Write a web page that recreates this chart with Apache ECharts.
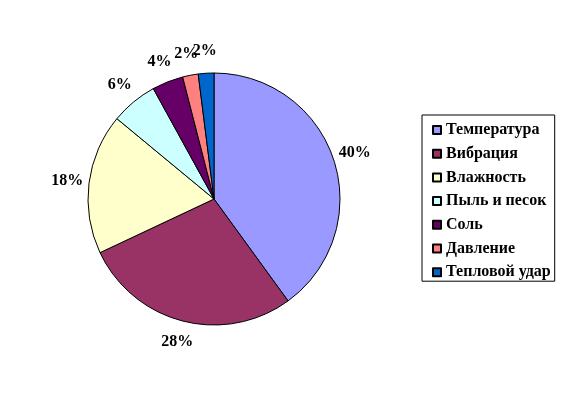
<!DOCTYPE html>
<html><head><meta charset="utf-8">
<script src="https://cdn.jsdelivr.net/npm/echarts@6/dist/echarts.min.js"></script>
<style>html,body{margin:0;padding:0;background:#fff}#c{width:566px;height:399px}</style>
</head><body><div id="c"></div>
<script>
var categories = ['Температура','Вибрация','Влажность','Пыль и песок','Соль','Давление','Тепловой удар'];
var values = [40, 28, 18, 6, 4, 2, 2];
var colors = ['#9999FF','#993366','#FFFFCC','#CCFFFF','#660066','#FF8080','#0066CC'];

var chart = echarts.init(document.getElementById('c'), null, {renderer:'canvas'});
var data = categories.map(function(n,i){return {name:n, value:values[i], itemStyle:{color:colors[i]}};});
chart.setOption({
  animation:false,
  backgroundColor:'#ffffff',
  legend:{
    orient:'vertical', left:422, top:115,
    padding:[7,4,1,10],
    borderColor:'#000', borderWidth:1,
    itemWidth:8, itemHeight:8, itemGap:7.7,
    icon:'rect',
    textStyle:{fontFamily:'Liberation Serif', fontWeight:'bold', fontSize:16, lineHeight:16, color:'#000'},
    data:categories
  },
  series:[{
    type:'pie', center:[214,199], radius:126, startAngle:90, clockwise:true,
    avoidLabelOverlap:false,
    data:data,
    itemStyle:{borderColor:'#000', borderWidth:1},
    label:{show:true, position:'outside', distanceToLabelLine:0, formatter:'{d}%', fontFamily:'Liberation Serif', fontWeight:'bold', fontSize:16, color:'#000'},
    labelLine:{show:false, length:22, length2:0},
    labelLayout:{align:'center', verticalAlign:'middle', hideOverlap:false},
    emphasis:{disabled:true}
  }]
});
</script></body></html>
